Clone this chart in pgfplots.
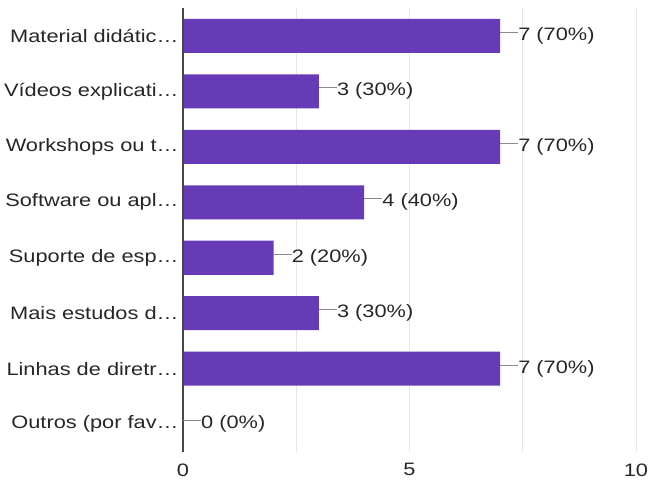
\documentclass[border=0pt]{standalone}
\usepackage{pgfplots}
\pgfplotsset{compat=1.18}
\usepackage{fontspec}
\setmainfont{Liberation Sans}[FakeStretch=1.21]
\definecolor{barpurple}{HTML}{673AB7}
\definecolor{txt}{HTML}{262626}
\definecolor{gridc}{HTML}{E6E6E6}
\definecolor{leader}{HTML}{8A8A8A}
\begin{document}
\begin{tikzpicture}
\begin{axis}[
  at={(0,0)}, anchor=south west,
  scale only axis, width=453pt, height=444pt,
  xbar, bar width=34pt,
  xmin=0, xmax=10, ymin=-0.5, ymax=7.5,
  y dir=reverse,
  axis line style={draw=none},
  xtick={0,5,10},
  minor xtick={2.5,7.5},
  ytick=data,
  yticklabels={Material didátic…,Vídeos explicati…,Workshops ou t…,Software ou apl…,Suporte de esp…,Mais estudos d…,Linhas de diretr…,Outros (por fav…},
  xmajorgrids, xminorgrids,
  grid style={draw=gridc, line width=0.8pt},
  minor grid style={draw=gridc, line width=0.8pt},
  major tick length=0pt, minor tick length=0pt,
  tick label style={font=\fontsize{18}{21}\selectfont, text=txt},
  /pgf/number format/assume math mode=true,
  xticklabel style={yshift=-8pt},
  yticklabel style={xshift=-1pt},
  point meta=explicit symbolic,
  nodes near coords={\textcolor{leader}{\rule[0.42em]{18pt}{1.3pt}}\pgfplotspointmeta},
  every node near coord/.append style={anchor=west, inner sep=0pt, xshift=0pt, font=\fontsize{18}{21}\selectfont, text=txt},
  clip=false,
]
\addplot[fill=barpurple, draw=none] coordinates {
  (7,0) [7 (70\%)]
  (3,1) [3 (30\%)]
  (7,2) [7 (70\%)]
  (4,3) [4 (40\%)]
  (2,4) [2 (20\%)]
  (3,5) [3 (30\%)]
  (7,6) [7 (70\%)]
  (0,7) [0 (0\%)]
};
\draw[draw=txt!85, line width=1.6pt] (axis cs:0,-0.5) -- (axis cs:0,7.5);
\end{axis}
\pgfresetboundingbox
\path[use as bounding box] (-183pt,-34pt) rectangle (466pt,452pt);
\end{tikzpicture}
\end{document}
